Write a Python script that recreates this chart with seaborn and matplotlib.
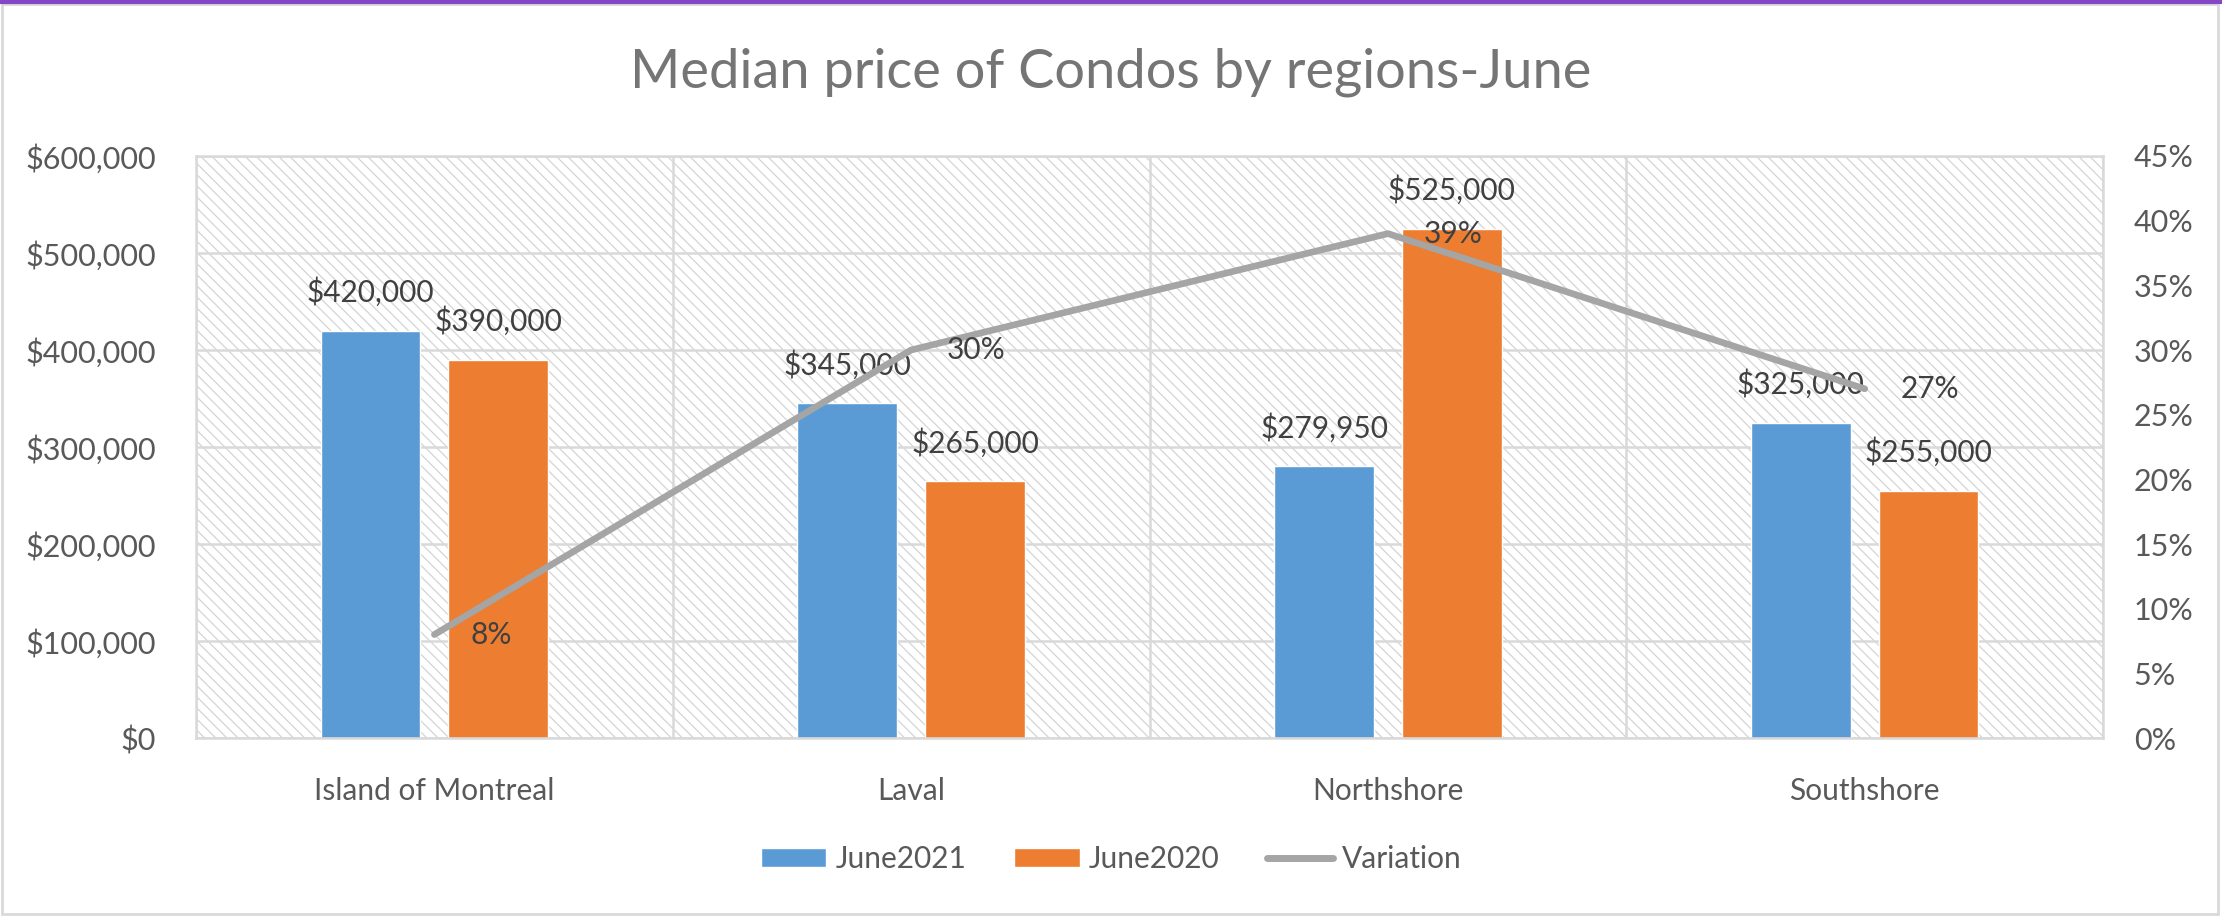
import numpy as np
import pandas as pd
import matplotlib
matplotlib.use("Agg")
import matplotlib.pyplot as plt
from matplotlib.patches import Patch, Rectangle
from matplotlib.lines import Line2D
from matplotlib.ticker import FuncFormatter, MultipleLocator, FixedLocator
import seaborn as sns

# data
regions = ["Island of Montreal", "Laval", "Northshore", "Southshore"]
june2021 = [420000, 345000, 279950, 325000]
june2020 = [390000, 265000, 525000, 255000]
variation = [0.08, 0.30, 0.39, 0.27]
series_names = ["June2021", "June2020", "Variation"]

blue = "#5B9BD5"
orange = "#ED7D31"
gray = "#A5A5A5"
grid_col = "#D9D9D9"
text_col = "#595959"

sns.set_style("white")
plt.rcParams["font.family"] = ["Lato", "DejaVu Sans"]
plt.rcParams["hatch.linewidth"] = 0.9

df = pd.DataFrame({
    "Region": regions * 2,
    "Price": june2021 + june2020,
    "Period": [series_names[0]] * len(regions) + [series_names[1]] * len(regions),
})

fig = plt.figure(figsize=(22.22, 9.16), dpi=100)
ax = fig.add_axes([0.0882, 0.1943, 0.8583, 0.6354])

# hatched plot area
bg = Rectangle((0, 0), 1, 1, transform=ax.transAxes, facecolor="white",
               edgecolor="#D4D4D4", linewidth=0, hatch="\\\\\\", zorder=0.1)
ax.add_patch(bg)

sns.barplot(data=df, x="Region", y="Price", hue="Period",
            palette=[blue, orange], width=0.536, gap=0.22, saturation=1,
            legend=False, ax=ax, zorder=2)

for cont, vals in zip(ax.containers, [june2021, june2020]):
    ax.bar_label(cont, labels=[f"${v:,.0f}" for v in vals], padding=17,
                 fontsize=21.5, color="#404040")

ax.set_xlim(-0.5, len(regions) - 0.5)
ax.set_ylim(0, 600000)
ax.yaxis.set_major_locator(MultipleLocator(100000))
ax.yaxis.set_major_formatter(FuncFormatter(lambda v, p: f"${v:,.0f}"))
ax.set_axisbelow(True)
ax.grid(axis="y", color=grid_col, linewidth=1.8, zorder=0.5)
ax.xaxis.set_minor_locator(FixedLocator(np.arange(-0.5, len(regions), 1.0)))
ax.grid(axis="x", which="minor", color=grid_col, linewidth=1.8, zorder=0.5)
ax.tick_params(axis="x", which="major", length=0, pad=28, labelsize=21.5, labelcolor=text_col)
ax.tick_params(axis="x", which="minor", length=8, width=1.8, color=grid_col)
ax.tick_params(axis="y", length=0, pad=29, labelsize=22, labelcolor=text_col)
ax.set_xlabel("")
ax.set_ylabel("")
for s in ax.spines.values():
    s.set_color(grid_col)
    s.set_linewidth(1.8)

# variation line on secondary axis
ax2 = ax.twinx()
xpos = np.arange(len(regions))
sns.lineplot(x=xpos, y=variation, ax=ax2, color=gray, linewidth=4.8,
             solid_capstyle="round", legend=False)
ax2.set_ylim(0, 0.45)
ax2.yaxis.set_major_locator(MultipleLocator(0.05))
ax2.yaxis.set_major_formatter(FuncFormatter(lambda v, p: f"{v:.0%}"))
ax2.tick_params(axis="y", length=0, pad=22, labelsize=22, labelcolor=text_col)
for s in ax2.spines.values():
    s.set_visible(False)
for xi, v in zip(xpos, variation):
    ax2.annotate(f"{v:.0%}", (xi, v), xytext=(36, 0), textcoords="offset pixels",
                 ha="left", va="center", fontsize=21.5, color="#404040")

fig.text(0.5, 0.921, "Median price of Condos by regions-June", ha="center", va="center",
         fontsize=39, color="#757575")

handles = [Patch(facecolor=blue), Patch(facecolor=orange),
           Line2D([], [], color=gray, linewidth=5, solid_capstyle="round")]
fig.legend(handles, series_names, loc="center", bbox_to_anchor=(0.5, 0.062), ncol=3,
           frameon=False, fontsize=21.5, labelcolor=text_col, handlelength=2.2,
           handleheight=0.6, handletextpad=0.3, columnspacing=1.6)

# chart frame
fig.patches.append(Rectangle((0.001, 0.002), 0.997, 0.994, transform=fig.transFigure,
                             fill=False, edgecolor=grid_col, linewidth=2))
fig.add_artist(Line2D([0, 1], [0.998, 0.998], transform=fig.transFigure,
                      color="#8547C6", linewidth=3))

fig.savefig("out.png", dpi=100)
